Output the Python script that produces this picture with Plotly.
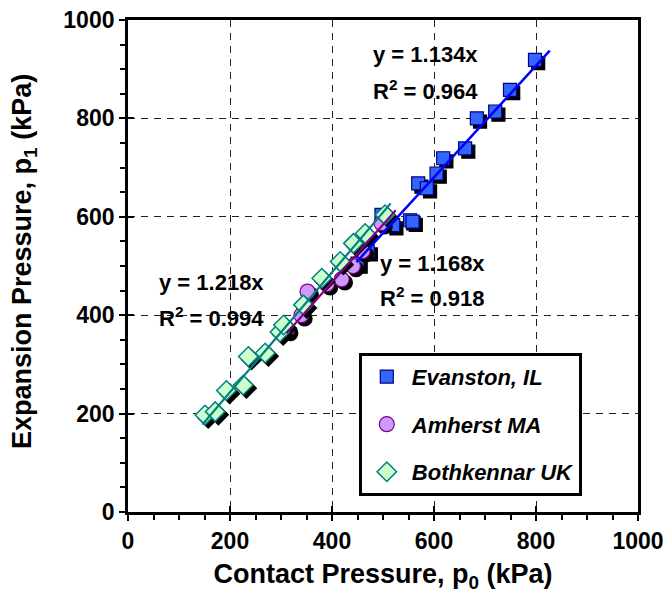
import plotly.graph_objects as go

# ---------------- data ----------------
evanston_x = [798, 749, 720, 684, 661, 618, 605, 569, 586, 553, 558, 520, 497, 470, 450]
evanston_y = [919, 858, 814, 800, 739, 719, 688, 668, 658, 593, 590, 583, 604, 530, 505]

amherst_x = [312, 340, 352, 390, 419, 441, 460, 497]
amherst_y = [370, 400, 448, 463, 473, 500, 530, 587]

bothkennar_x = [151, 171, 193, 226, 236, 269, 298, 305, 344, 380, 416, 442, 465, 504]
bothkennar_y = [197, 204, 247, 258, 316, 323, 366, 380, 421, 475, 509, 546, 566, 604]

series_names = ["Evanston, IL", "Amherst MA", "Bothkennar UK"]
slopes = [1.134, 1.168, 1.218]
r2_values = [0.964, 0.918, 0.994]
trend_x_start = [448, 311, 146]
trend_x_end = [827, 525, 515]
label_x = [584, 598, 163]
label_y = [929, 506, 467]
r2_label_y = [858, 437, 396]

axis_ticks = [0, 200, 400, 600, 800, 1000]

# ---------------- layout constants ----------------
W, H = 665, 601
ML, MR, MT, MB = 128, 27, 20, 89
XR = [0, 1000]
YR = [0, 1000]
PW, PH = W - ML - MR, H - MT - MB
px_per_x = PW / (XR[1] - XR[0])
px_per_y = PH / (YR[1] - YR[0])
SH = 3.2  # shadow offset in pixels
sdx = SH / px_per_x
sdy = -SH / px_per_y

FONT = "Liberation Sans, Arial, sans-serif"

styles = [
    dict(symbol="square", size=13, color="#3366FF", line=dict(color="#000080", width=1.2)),
    dict(symbol="circle", size=15, color="#CC99FF", line=dict(color="#800080", width=1.2)),
    dict(symbol="diamond", size=15, color="#CCFFCC", line=dict(color="#008080", width=1.5)),
]
line_colors = ["#0000FF", "#800080", "#008080"]
line_widths = [2.5, 2.2, 2.2]

data = [(evanston_x, evanston_y), (amherst_x, amherst_y), (bothkennar_x, bothkennar_y)]

fig = go.Figure()
for i, (xs, ys) in enumerate(data):
    st = styles[i]
    fig.add_trace(go.Scatter(
        x=[v + sdx for v in xs], y=[v + sdy for v in ys], mode="markers",
        marker=dict(symbol=st["symbol"], size=st["size"], color="black",
                    line=dict(color="black", width=st["line"]["width"])),
        showlegend=False, hoverinfo="skip"))
    fig.add_trace(go.Scatter(
        x=xs, y=ys, mode="markers", name=series_names[i], legendgroup=str(i),
        marker=st))

for i in range(3):
    xs = [trend_x_start[i], trend_x_end[i]]
    fig.add_trace(go.Scatter(
        x=xs, y=[slopes[i] * v for v in xs], mode="lines",
        line=dict(color=line_colors[i], width=line_widths[i]),
        showlegend=False, hoverinfo="skip"))

for i in range(3):
    fig.add_annotation(x=label_x[i], y=label_y[i], text=f"y = {slopes[i]:.3f}x",
                       showarrow=False, xanchor="center", yanchor="middle",
                       font=dict(family=FONT, size=22, color="black", weight="bold"))
    fig.add_annotation(x=label_x[i], y=r2_label_y[i],
                       text=f"R<sup>2</sup> = {r2_values[i]:.3f}",
                       showarrow=False, xanchor="center", yanchor="middle",
                       font=dict(family=FONT, size=22, color="black", weight="bold"))

tickfont = dict(family=FONT, size=23, color="black", weight="bold")
titlefont = dict(family=FONT, size=27, color="black", weight="bold")

# y-axis title as a rotated annotation (placed left of the tick labels)
fig.add_annotation(xref="paper", yref="paper", x=(24 - ML) / PW, y=(H - MB - 262) / PH,
                   text="Expansion Pressure, p<sub>1</sub> (kPa)", textangle=-90,
                   showarrow=False, xanchor="center", yanchor="middle", font=titlefont)

common = dict(
    tickmode="array", tickvals=axis_ticks, ticks="outside", ticklen=6,
    tickwidth=2, tickcolor="black", showline=True, linecolor="black", linewidth=2.8,
    mirror=True, showgrid=True, gridcolor="#222222", gridwidth=1, griddash="7px,6px",
    zeroline=False, tickfont=tickfont, automargin=False,
    minor=dict(ticks="outside", ticklen=5, tickwidth=1.5, tickcolor="black",
               dtick=50, showgrid=False),
)

fig.update_layout(
    width=W, height=H, margin=dict(l=ML, r=MR, t=MT, b=MB),
    paper_bgcolor="white", plot_bgcolor="white",
    xaxis=dict(**common, range=XR,
               title=dict(text="Contact Pressure, p<sub>0</sub> (kPa)", font=titlefont, standoff=12)),
    yaxis=dict(**common, range=YR),
    xaxis2=dict(overlaying="x", range=XR, anchor="y", side="bottom", tickmode="array",
                tickvals=axis_ticks, ticks="inside", ticklen=6, tickwidth=2, tickcolor="black",
                showticklabels=False, showgrid=False, showline=False, zeroline=False,
                automargin=False),
    yaxis2=dict(overlaying="y", range=YR, anchor="x", side="left", tickmode="array",
                tickvals=axis_ticks, ticks="inside", ticklen=6, tickwidth=2, tickcolor="black",
                showticklabels=False, showgrid=False, showline=False, zeroline=False,
                automargin=False),
    legend=dict(x=(359 - ML) / PW, y=(H - MB - 353) / PH,
                xanchor="left", yanchor="top", bordercolor="black", borderwidth=2.8,
                bgcolor="white", tracegroupgap=16, traceorder="grouped", itemwidth=40,
                font=dict(family=FONT, size=22, color="black", weight="bold", style="italic")),
    showlegend=True,
)
# dummy invisible trace so overlay axes render
fig.add_trace(go.Scatter(x=[None], y=[None], xaxis="x2", yaxis="y2", showlegend=False))

fig.write_html("out.html")
